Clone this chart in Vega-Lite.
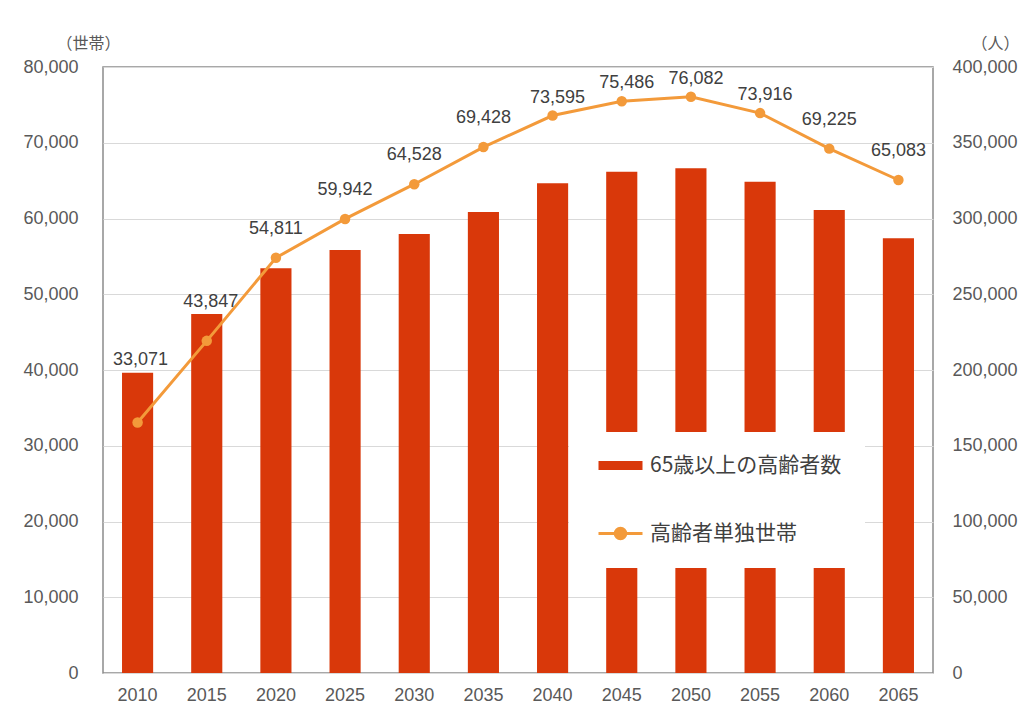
{
  "$schema": "https://vega.github.io/schema/vega-lite/v6.json",
  "autosize": "none",
  "width": 830,
  "height": 606,
  "padding": {"left": 103, "top": 67, "right": 86, "bottom": 35},
  "background": "white",
  "data": {
    "values": [
      {"year": "2010", "households": 33071, "elderly": 198200},
      {"year": "2015", "households": 43847, "elderly": 237000},
      {"year": "2020", "households": 54811, "elderly": 267100},
      {"year": "2025", "households": 59942, "elderly": 279200},
      {"year": "2030", "households": 64528, "elderly": 289700},
      {"year": "2035", "households": 69428, "elderly": 304300},
      {"year": "2040", "households": 73595, "elderly": 323200},
      {"year": "2045", "households": 75486, "elderly": 330900},
      {"year": "2050", "households": 76082, "elderly": 333100},
      {"year": "2055", "households": 73916, "elderly": 324300},
      {"year": "2060", "households": 69225, "elderly": 305600},
      {"year": "2065", "households": 65083, "elderly": 286900}
    ]
  },
  "encoding": {
    "x": {
      "field": "year",
      "type": "ordinal",
      "scale": {"paddingInner": 0.55, "paddingOuter": 0.275},
      "axis": {"title": null, "labelAngle": 0, "labelPadding": 13, "labelFontSize": 18}
    }
  },
  "layer": [
    {
      "mark": {"type": "bar"},
      "encoding": {
        "y": {
          "field": "elderly",
          "type": "quantitative",
          "scale": {"domain": [0, 400000], "nice": false},
          "axis": {
            "orient": "right",
            "title": "（人）",
            "titleAngle": 0,
            "titleX": 62,
            "titleY": -24,
            "titleAlign": "center",
            "titleBaseline": "middle",
            "grid": false,
            "values": [0, 50000, 100000, 150000, 200000, 250000, 300000, 350000, 400000],
            "format": ",d",
            "labelPadding": 19
          }
        },
        "color": {
          "datum": "65歳以上の高齢者数",
          "scale": {"domain": ["65歳以上の高齢者数", "高齢者単独世帯"], "range": ["#D9380A", "#F39A3A"]},
          "legend": {
            "title": null,
            "orient": "none",
            "legendX": 466,
            "legendY": 365,
            "padding": 23,
            "fillColor": "white",
            "strokeColor": null,
            "symbolOffset": 18,
            "symbolSize": 1936,
            "labelOffset": 19,
            "rowPadding": 46,
            "labelFont": "Noto Sans CJK JP",
            "labelFontSize": 21,
            "labelColor": "#404040",
            "labelLimit": 400,
            "encode": {
              "symbols": {
                "update": {
                  "shape": {"signal": "datum.value === '高齢者単独世帯' ? 'M-1,0H1M0.24,0A0.24,0.24,0,1,1,-0.24,0A0.24,0.24,0,1,1,0.24,0Z' : 'M-1,-0.2H1V0.2H-1Z'"},
                  "fill": {"signal": "datum.value === '高齢者単独世帯' ? '#F39A3A' : '#D9380A'"},
                  "stroke": {"signal": "datum.value === '高齢者単独世帯' ? '#F39A3A' : '#D9380A'"},
                  "strokeWidth": {"signal": "datum.value === '高齢者単独世帯' ? 3 : 0"},
                  "opacity": {"value": 1},
                  "fillOpacity": {"value": 1},
                  "strokeOpacity": {"value": 1}
                }
              }
            }
          }
        }
      }
    },
    {
      "encoding": {
        "y": {
          "field": "households",
          "type": "quantitative",
          "scale": {"domain": [0, 80000], "nice": false},
          "axis": {
            "orient": "left",
            "title": "（世帯）",
            "titleAngle": 0,
            "titleX": -15,
            "titleY": -24,
            "titleAlign": "center",
            "titleBaseline": "middle",
            "grid": true,
            "values": [0, 10000, 20000, 30000, 40000, 50000, 60000, 70000, 80000],
            "format": ",d",
            "labelPadding": 25
          }
        }
      },
      "layer": [
        {
          "mark": {"type": "line", "strokeWidth": 3, "point": {"filled": true, "size": 110}},
          "encoding": {"color": {"datum": "高齢者単独世帯"}}
        },
        {
          "transform": [{"filter": {"not": {"field": "year", "oneOf": ["2010", "2015", "2040", "2045", "2050", "2055"]}}}],
          "mark": {"type": "text", "dy": -29, "baseline": "middle", "font": "Liberation Sans", "fontSize": 18, "color": "#404040"},
          "encoding": {"text": {"field": "households", "type": "quantitative", "format": ",d"}}
        },
        {
          "transform": [{"filter": {"field": "year", "equal": "2010"}}],
          "mark": {"type": "text", "dy": -62, "dx": 3, "baseline": "middle", "font": "Liberation Sans", "fontSize": 18, "color": "#404040"},
          "encoding": {"text": {"field": "households", "type": "quantitative", "format": ",d"}}
        },
        {
          "transform": [{"filter": {"field": "year", "equal": "2015"}}],
          "mark": {"type": "text", "dy": -39, "dx": 4, "baseline": "middle", "font": "Liberation Sans", "fontSize": 18, "color": "#404040"},
          "encoding": {"text": {"field": "households", "type": "quantitative", "format": ",d"}}
        },
        {
          "transform": [{"filter": {"field": "year", "oneOf": ["2040", "2045", "2050", "2055"]}}],
          "mark": {"type": "text", "dy": -18, "dx": 5, "baseline": "middle", "font": "Liberation Sans", "fontSize": 18, "color": "#404040"},
          "encoding": {"text": {"field": "households", "type": "quantitative", "format": ",d"}}
        }
      ]
    }
  ],
  "resolve": {"scale": {"y": "independent"}, "axis": {"y": "independent"}},
  "config": {
    "view": {"stroke": "#8c8c8c", "strokeWidth": 1.5},
    "axis": {
      "domain": false,
      "ticks": false,
      "gridColor": "#D9D9D9",
      "gridWidth": 1,
      "labelFont": "Liberation Sans",
      "labelFontSize": 18,
      "labelColor": "#595959",
      "titleFont": "Noto Sans CJK JP",
      "titleFontSize": 16,
      "titleFontWeight": "normal",
      "titleColor": "#595959"
    }
  }
}
